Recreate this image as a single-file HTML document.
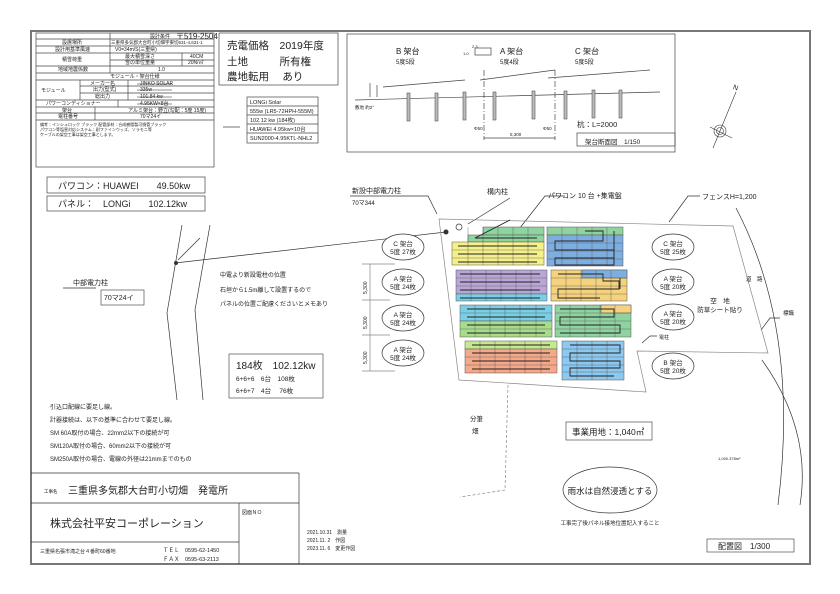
<!DOCTYPE html>
<html><head><meta charset="utf-8"><style>
body{margin:0;background:#fff}
svg{display:block}
text{font-family:"Liberation Sans","Noto Sans CJK JP",sans-serif;fill:#222}
</style></head><body>
<svg width="840" height="594" viewBox="0 0 840 594" xmlns="http://www.w3.org/2000/svg">
<rect width="840" height="594" fill="#fff"/>
<rect x="31" y="31" width="779" height="533" fill="none" stroke="#777" stroke-width="2"/>
<g stroke="#444" stroke-width="0.7" fill="none">
<!-- top-left table -->
<rect x="36" y="33" width="178" height="134"/>
<line x1="36" y1="39" x2="214" y2="39"/><line x1="36" y1="46" x2="214" y2="46"/>
<line x1="36" y1="53" x2="214" y2="53"/><line x1="110" y1="60" x2="214" y2="60"/>
<line x1="36" y1="66" x2="214" y2="66"/><line x1="36" y1="73" x2="214" y2="73"/>
<line x1="36" y1="80" x2="214" y2="80"/><line x1="80" y1="86" x2="214" y2="86"/>
<line x1="80" y1="93" x2="214" y2="93"/><line x1="36" y1="100" x2="214" y2="100"/>
<line x1="36" y1="107" x2="214" y2="107"/><line x1="36" y1="113" x2="214" y2="113"/>
<line x1="36" y1="120" x2="214" y2="120"/>
<line x1="110" y1="33" x2="110" y2="73"/><line x1="182" y1="53" x2="182" y2="66"/>
<line x1="80" y1="80" x2="80" y2="100"/><line x1="128" y1="80" x2="128" y2="100"/>
<line x1="118" y1="100" x2="118" y2="107"/><line x1="95" y1="107" x2="95" y2="120"/>
<!-- sales box -->
<rect x="219" y="33" width="119" height="52"/>
<rect x="247" y="97" width="71" height="46"/>
<line x1="247" y1="106" x2="318" y2="106"/><line x1="247" y1="115" x2="318" y2="115"/>
<line x1="247" y1="124" x2="318" y2="124"/><line x1="247" y1="133" x2="318" y2="133"/>
<line x1="223" y1="127" x2="240" y2="127"/>
<rect x="47" y="177" width="158" height="16"/>
<rect x="47" y="196" width="158" height="15"/>
<!-- section box -->
<rect x="347" y="34" width="328" height="118"/>
<rect x="577" y="133" width="98" height="13"/>
<line x1="355" y1="100" x2="660" y2="92"/>
<polyline points="383,87 465,80"/><polyline points="480,80 555,70"/><polyline points="548,78 650,70"/>
<line x1="484" y1="70" x2="484" y2="140" stroke-dasharray="6,2,1,2"/>
<line x1="555" y1="70" x2="555" y2="140" stroke-dasharray="6,2,1,2"/>
<line x1="484" y1="138" x2="555" y2="138"/>
<line x1="370" y1="83" x2="370" y2="97"/><line x1="377" y1="85" x2="377" y2="97"/>
<rect x="475" y="48" width="16" height="7"/>
</g>
<g fill="#bbb" stroke="#555" stroke-width="0.6">
<rect x="407" y="93" width="3" height="28"/><rect x="435" y="93" width="3" height="28"/><rect x="463" y="92" width="3" height="28"/>
<rect x="493" y="92" width="3" height="28"/><rect x="532" y="91" width="3" height="28"/><rect x="564" y="91" width="3" height="28"/>
<rect x="592" y="90" width="3" height="28"/><rect x="619" y="90" width="3" height="28"/>
</g>
<g font-size="5">
<text x="150" y="38">設計条件</text><text x="176" y="39" font-size="8">〒519-2504</text>
<text x="62" y="44">設置場所</text><text x="111" y="44" font-size="4.5">三重県多気郡大台町小切畑字東切631-4,631-1</text>
<text x="55" y="51">設計用基準風速</text><text x="115" y="51">V0=34m/S(三重県)</text>
<text x="62" y="61">積雪荷重</text><text x="125" y="58">最大積雪深さ</text><text x="190" y="58">40CM</text>
<text x="125" y="64">雪の単位重量</text><text x="188" y="64">20N/㎡</text>
<text x="58" y="71">地域地震係数</text><text x="158" y="71">1.0</text>
<text x="110" y="78">モジュール・架台仕様</text>
<text x="41" y="92">モジュール</text><text x="90" y="85">メーカー名</text><text x="93" y="91">出力(型式)</text><text x="95" y="98">総出力</text>
<text x="140" y="85">JINKO SOLAR</text><text x="140" y="91">335w</text><text x="140" y="98">101.84 kw</text>
<text x="46" y="105">パワーコンディショナー</text><text x="140" y="105">4.95KW×8台</text>
<text x="62" y="112">架台</text><text x="128" y="112">アルミ架台：野立(勾配：5度 15度)</text>
<text x="58" y="118">電柱番号</text><text x="140" y="118">70マ24イ</text>
<text x="40" y="126" font-size="4">備考：インシュロック ブラック 配管部材：合成樹脂製可撓管ブラック</text>
<text x="40" y="131" font-size="4">パワコン等塩害対応システム：耐ファインウッズ、ソラモニ等</text>
<text x="40" y="136" font-size="4">ケーブルの架空工事は架空工事とします。</text>
</g>
<g stroke="#222" stroke-width="0.6"><line x1="137" y1="84" x2="172" y2="84"/><line x1="137" y1="90" x2="172" y2="90"/><line x1="137" y1="97" x2="172" y2="97"/><line x1="137" y1="104" x2="172" y2="104"/></g>
<g font-size="10.5"><text x="227" y="49">売電価格　2019年度</text><text x="227" y="65">土地　　　所有権</text><text x="227" y="80">農地転用　 あり</text></g>
<g font-size="5.5"><text x="250" y="104">LONGi Solar</text><text x="250" y="113">555w (LR5-72HPH-555M)</text><text x="250" y="122">102.12 kw (184枚)</text><text x="250" y="131">HUAWEI 4.95kw×10台</text><text x="250" y="140">SUN2000-4.95KTL-NHL2</text></g>
<text x="58" y="189" font-size="9">パワコン：HUAWEI　　49.50kw</text>
<text x="58" y="207" font-size="9">パネル：　LONGi　　102.12kw</text>
<g font-size="8"><text x="396" y="54">B 架台</text><text x="500" y="54">A 架台</text><text x="575" y="54">C 架台</text></g>
<g font-size="6"><text x="396" y="64">5度5段</text><text x="500" y="64">5度4段</text><text x="575" y="64">5度5段</text>
<text x="355" y="109" font-size="4.5">敷地 約2°</text><text x="472" y="48" font-size="4">2.3</text><text x="463" y="55" font-size="4">1.0</text>
<text x="510" y="136" font-size="4.5">5,300</text><text x="474" y="130" font-size="4.5">Φ50</text><text x="543" y="130" font-size="4.5">Φ50</text>
<text x="577" y="127" font-size="7.5">杭：L=2000</text><text x="585" y="144" font-size="6.5">架台断面図　1/150</text></g>
<!-- compass -->
<g stroke="#333" stroke-width="0.6" fill="none"><line x1="713" y1="148" x2="736" y2="92"/><line x1="710" y1="127" x2="732" y2="138"/><circle cx="720" cy="131" r="6"/><circle cx="720" cy="131" r="3.5"/></g>
<text x="733" y="90" font-size="7" transform="rotate(20 736 88)">N</text>
<!-- roads -->
<g stroke="#333" stroke-width="0.7" fill="none">
<path d="M182,225 L167,313 L177,400"/><path d="M210,225 L195,310 L203,400"/>
<path d="M736,208 Q800,330 778,505"/><path d="M762,360 Q812,430 800,505"/>
<line x1="175" y1="263" x2="446" y2="232"/>
<circle cx="459" cy="227" r="3"/>
<path d="M468,224 L510,198"/><path d="M512,238 L545,196 L565,196"/><path d="M669,222 L688,196 L700,196"/>
<path d="M437,214 L428,196 L350,196"/><path d="M178,260 L200,238"/><path d="M63,288 L96,288"/>
<path d="M642,343 L650,336 L657,336"/><path d="M761,330 L770,318 L780,318"/>
</g>
<circle cx="446" cy="232" r="2.5" fill="#333"/><circle cx="176" cy="263" r="2" fill="#333"/>
<!-- site boundary -->
<g stroke="#888" stroke-width="0.7" fill="none">
<polyline points="439,219 733,226 768,353 637,351 646,392 459,380 439,219"/>
<polyline points="508,385 505,490 460,497" stroke-dasharray="3,2"/>
<line x1="370" y1="264" x2="370" y2="371"/>
<line x1="362" y1="264" x2="395" y2="264"/><line x1="362" y1="300" x2="390" y2="300"/><line x1="362" y1="335" x2="390" y2="335"/><line x1="362" y1="371" x2="395" y2="371"/>
</g>
<!-- panels -->
<g stroke="#555" stroke-width="0.5">
<rect x="483" y="227" width="61" height="8" fill="#8fd3a0"/><rect x="468" y="235" width="76" height="7" fill="#8fd3a0"/>
<rect x="452" y="242" width="92" height="23" fill="#f4f08a"/>
<rect x="547" y="227" width="76" height="8" fill="#8fd3a0"/><rect x="547" y="235" width="76" height="31" fill="#7eaee0"/>
<rect x="456" y="270" width="91" height="24" fill="#b9a6d6"/><rect x="456" y="294" width="91" height="7" fill="#79d0e6"/>
<rect x="551" y="270" width="76" height="31" fill="#f5d27e"/><rect x="582" y="270" width="45" height="8" fill="#7eaee0"/>
<rect x="460" y="305" width="92" height="16" fill="#79d0e6"/><rect x="460" y="321" width="92" height="16" fill="#a8dc8a"/>
<rect x="555" y="305" width="76" height="32" fill="#8fd3a0"/><rect x="601" y="305" width="30" height="8" fill="#f5d27e"/>
<rect x="465" y="341" width="92" height="8" fill="#c8e890"/><rect x="465" y="349" width="92" height="24" fill="#f4a98a"/>
<rect x="562" y="341" width="62" height="39" fill="#8cc8f0"/>
</g>
<g stroke="#555" stroke-width="0.4">
<path d="M452,250H544M452,258H544M547,243H623M547,251H623M547,259H623M456,278H547M456,286H547M551,278H627M551,286H627M551,294H627M460,313H552M460,329H552M555,313H631M555,321H631M555,329H631M465,357H557M465,365H557M562,349H624M562,357H624M562,365H624M562,372H624"/>
<path d="M468,227V265M483,227V265M498,227V265M513,227V265M528,227V265M562,227V266M577,227V266M592,227V266M607,227V266M471,270V301M486,270V301M501,270V301M516,270V301M531,270V301M566,270V301M581,270V301M596,270V301M611,270V301M475,305V337M490,305V337M505,305V337M520,305V337M536,305V337M570,305V337M585,305V337M600,305V337M615,305V337M480,341V373M495,341V373M510,341V373M525,341V373M541,341V373M577,341V380M592,341V380M607,341V380"/>
</g>
<g stroke="#222" stroke-width="0.9" fill="none">
<path d="M458,246H537M458,254H537M458,262H537M475,238H537M460,274H540M460,282H540M460,290H540M460,298H540M467,309H545M467,317H545M467,325H545M467,333H545M472,345H550M472,353H550M472,361H550M472,369H550"/>
<path d="M585,231H603V241H555V250H614V258H555V265H614V231M558,274H603V281H619V289H558V298H600M620,278V289M560,309H614V317H560V325H620V333H560M570,345H620V353H570V361H620V368H570V376H614"/>
<path d="M475,238L510,220"/>
</g>
<!-- ellipses -->
<g stroke="#333" stroke-width="0.7" fill="#fff">
<ellipse cx="403" cy="247" rx="21" ry="13"/><ellipse cx="403" cy="282" rx="21" ry="13"/><ellipse cx="403" cy="318" rx="21" ry="13"/><ellipse cx="403" cy="353" rx="21" ry="13"/>
<ellipse cx="673" cy="247" rx="21" ry="13"/><ellipse cx="673" cy="282" rx="21" ry="13"/><ellipse cx="673" cy="317" rx="21" ry="13"/><ellipse cx="673" cy="366" rx="21" ry="13"/>
<ellipse cx="610" cy="490" rx="47" ry="23" fill="none"/>
</g>
<g font-size="6.5" text-anchor="middle">
<text x="403" y="246">C 架台</text><text x="403" y="254">5度 27枚</text>
<text x="403" y="281">A 架台</text><text x="403" y="289">5度 24枚</text>
<text x="403" y="317">A 架台</text><text x="403" y="325">5度 24枚</text>
<text x="403" y="352">A 架台</text><text x="403" y="360">5度 24枚</text>
<text x="673" y="246">C 架台</text><text x="673" y="254">5度 25枚</text>
<text x="673" y="281">A 架台</text><text x="673" y="289">5度 20枚</text>
<text x="673" y="316">A 架台</text><text x="673" y="324">5度 20枚</text>
<text x="673" y="365">B 架台</text><text x="673" y="373">5度 20枚</text>
<text x="720" y="303">空　地</text><text x="720" y="312">防草シート貼り</text>
</g>
<g font-size="5" fill="#333"><text x="367" y="294" transform="rotate(-90 367 294)">5,300</text><text x="367" y="329" transform="rotate(-90 367 329)">5,300</text><text x="367" y="364" transform="rotate(-90 367 364)">5,300</text></g>
<g font-size="7">
<text x="352" y="193">新設中部電力柱</text><text x="352" y="205" font-size="6">70マ344</text>
<text x="487" y="194">構内柱</text><text x="548" y="198">パワコン 10 台 +集電盤</text>
<text x="702" y="199">フェンスH=1,200</text>
<text x="746" y="281" font-size="5.5">道　路</text><text x="783" y="315" font-size="5.5">標識</text><text x="659" y="339" font-size="5">電柱</text>
<text x="73" y="285">中部電力柱</text>
</g>
<rect x="101" y="290" width="43" height="15" fill="none" stroke="#333" stroke-width="0.6"/>
<text x="104" y="300" font-size="7">70マ24イ</text>
<g font-size="6"><text x="220" y="277">中電より新設電柱の位置</text><text x="220" y="292">石垣から1.5m離して設置するので</text><text x="220" y="306">パネルの位置ご配慮くださいとメモあり</text></g>
<rect x="229" y="354" width="94" height="44" fill="none" stroke="#333" stroke-width="0.6"/>
<text x="236" y="369" font-size="10">184枚　102.12kw</text>
<g font-size="6.5"><text x="236" y="381">6+6+6　6台　108枚</text><text x="236" y="393">6+6+7　4台　 76枚</text></g>
<g font-size="6"><text x="50" y="409">引込口配線に要足し線。</text><text x="50" y="422">計器接続は、以下の基準に合わせて要足し線。</text><text x="50" y="435">SM 60A取付の場合、22mm2以下の接続が可</text><text x="50" y="448">SM120A取付の場合、60mm2以下の接続が可</text><text x="50" y="461">SM250A取付の場合、電線の外径は21mmまでのもの</text></g>
<text x="470" y="421" font-size="6.5">分筆</text><text x="472" y="433" font-size="6.5">畑</text>
<rect x="566" y="422" width="86" height="18" fill="none" stroke="#333" stroke-width="0.6"/>
<text x="572" y="435" font-size="8.5">事業用地：1,040㎡</text>
<text x="610" y="494" font-size="8.5" text-anchor="middle">雨水は自然浸透とする</text>
<text x="610" y="525" font-size="5.5" text-anchor="middle">工事完了後パネル接地位置記入すること</text>
<text x="718" y="460" font-size="4">1,040.378m²</text>
<rect x="707" y="539" width="87" height="13" fill="none" stroke="#333" stroke-width="0.6"/>
<text x="718" y="549" font-size="8">配置図　1/300</text>
<!-- title block -->
<g stroke="#333" stroke-width="0.7" fill="none">
<line x1="31" y1="473" x2="299" y2="473"/><line x1="299" y1="473" x2="299" y2="564"/>
<line x1="31" y1="503" x2="299" y2="503"/><line x1="31" y1="542" x2="239" y2="542"/><line x1="239" y1="503" x2="239" y2="564"/>
</g>
<text x="44" y="493" font-size="4.5">工事名</text><text x="68" y="494" font-size="10">三重県多気郡大台町小切畑　発電所</text>
<text x="50" y="527" font-size="11">株式会社平安コーポレーション</text>
<text x="242" y="514" font-size="5">図面ＮＯ</text>
<text x="40" y="553" font-size="5">三重県名張市滝之台４番町60番地</text>
<text x="163" y="552" font-size="5.5">ＴＥＬ　0595-62-1450</text><text x="163" y="561" font-size="5.5">ＦＡＸ　0595-63-2113</text>
<g font-size="5"><text x="307" y="534">2021.10.31　測量</text><text x="307" y="542">2021.11. 2　作図</text><text x="307" y="550">2023.11. 6　変更作図</text></g>
</svg>
</body></html>
